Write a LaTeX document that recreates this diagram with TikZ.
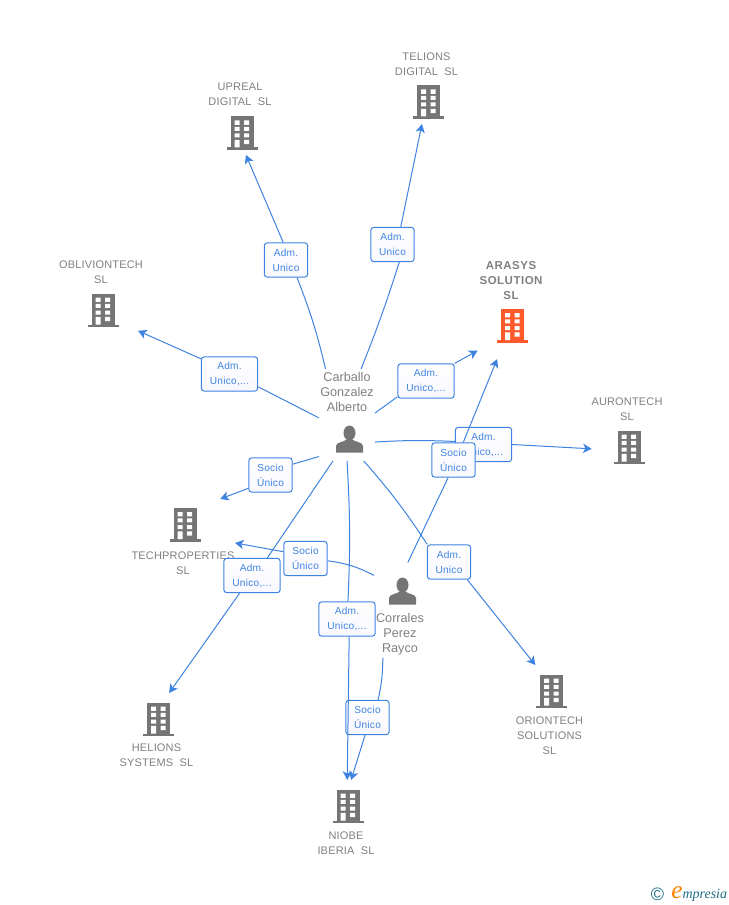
\documentclass[tikz,border=0pt]{standalone}
\usepackage{fontspec}
\setmainfont{Liberation Sans}
\newfontfamily\lblfont[LetterSpace=1.5]{Liberation Sans}
\newfontfamily\mainlblfont[LetterSpace=4.5]{Liberation Sans}
\newfontfamily\rolefont[LetterSpace=2.5]{Liberation Sans}
\newfontfamily\logofont{Liberation Serif}
\usepackage{xcolor}
\usetikzlibrary{shapes,arrows.meta}
\definecolor{linkblue}{HTML}{3F83E0}
\definecolor{iconGrey}{HTML}{757575}
\definecolor{lblGrey}{HTML}{808080}
\definecolor{mainOrange}{HTML}{FF5A2B}
\definecolor{logoTeal}{HTML}{1F6E85}
\tikzstyle{icon} = [rectangle, minimum width=23.25pt, minimum height=25.5pt, inner sep=0pt, outer sep=0pt]
\tikzstyle{person} = [rectangle, minimum width=42pt, minimum height=69pt, inner sep=0pt, outer sep=0pt]
\tikzstyle{lbl} = [text=lblGrey, align=center, xshift=-1.5pt, yshift=-0.75pt, font=\lblfont\fontsize{8.25}{11.25}\selectfont]
\tikzstyle{mainlbl} = [text=lblGrey, align=center, xshift=-1.1pt, font=\mainlblfont\bfseries\fontsize{8.6}{11.25}\selectfont]
\tikzstyle{personlbl} = [text=lblGrey, align=center, font=\fontsize{9.5}{11.25}\selectfont]
\tikzstyle{rolebox} = [rectangle, draw=linkblue, line width=0.75pt, rounded corners=2.2pt, top color=white, bottom color=white!97!blue,
text=linkblue, align=center, inner sep=0pt, minimum width=32.5pt, minimum height=25.75pt, font=\rolefont\fontsize{7.6}{11.25}\selectfont]
\tikzstyle{widebox} = [rolebox, minimum width=42.25pt]
\tikzstyle{stub} = [draw=linkblue, line width=0.75pt]
\tikzstyle{pijl} = [stub, -{Stealth[length=6.5pt,width=7pt,inset=1.8pt]}]
\tikzset{
	bldg/.pic={
		\fill (-11.5,16.5) rectangle (11.5,-14.5);
		\fill (-15.5,-14.5) rectangle (15.5,-17);
		\fill [white] (-7.5,12.5) rectangle (-2.5,8.2) (2,12.5) rectangle (7,8.2);
		\fill [white] (-7.5,6.2) rectangle (-2.5,2.2) (2,6.2) rectangle (7,2.2);
		\fill [white] (-7.5,-0.5) rectangle (-2.5,-4.5) (2,-0.5) rectangle (7,-4.5);
		\fill [white] (-7.5,-6.8) rectangle (-2.5,-14.5) (2,-6.8) rectangle (7,-11.2);
	},
	man/.pic={
		\fill [iconGrey] (0,6) ellipse (6 and 7.5);
		\fill [iconGrey] (-13.5,-13.5) -- (-13.5,-7) .. controls (-13.5,-3) and (-5,-3) .. (-3,-0.5)
			-- (3,-0.5) .. controls (5,-3) and (13.5,-3) .. (13.5,-7) -- (13.5,-13.5) -- cycle;
	}
}
\begin{document}
\begin{tikzpicture}[x=0.75pt, y=0.75pt]
	\useasboundingbox (0,0) rectangle (728,-905);

	% companies
	\node [icon] (telions) at (428.5,-102) {};
	\node [icon] (upreal) at (242,-133) {};
	\node [icon] (obliviontech) at (103,-310) {};
	\node [icon] (arasys) at (512.5,-325.5) {};
	\node [icon] (aurontech) at (629,-447) {};
	\node [icon] (techproperties) at (185,-524.5) {};
	\node [icon] (orion) at (551.5,-691) {};
	\node [icon] (helions) at (158.5,-719) {};
	\node [icon] (niobe) at (348,-806) {};
	\foreach \co in {telions,upreal,obliviontech,aurontech,techproperties,orion,helions,niobe}
		\pic [iconGrey] at (\co) {bldg};
	\pic [mainOrange] at (arasys) {bldg};

	\node [lbl, above of=telions, node distance=29pt] (telionslbl) {TELIONS\\DIGITAL\ \ SL};
	\node [lbl, above of=upreal, node distance=29.5pt] (upreallbl) {UPREAL\\DIGITAL\ \ SL};
	\node [lbl, above of=obliviontech, node distance=29.25pt] (obliviontechlbl) {OBLIVIONTECH\\SL};
	\node [mainlbl, above of=arasys, node distance=34pt] (arasyslbl) {ARASYS\\SOLUTION\\SL};
	\node [lbl, above of=aurontech, node distance=29pt] (aurontechlbl) {AURONTECH\\SL};
	\node [lbl, below of=techproperties, node distance=28pt] (techpropertieslbl) {TECHPROPERTIES\\SL};
	\node [lbl, below of=orion, node distance=33pt] (orionlbl) {ORIONTECH\\SOLUTIONS\\SL};
	\node [lbl, below of=helions, node distance=26.5pt] (helionslbl) {HELIONS\\SYSTEMS\ \ SL};
	\node [lbl, below of=niobe, node distance=27.5pt] (niobelbl) {NIOBE\\IBERIA\ \ SL};

	% people
	\node [person] (carballo) at (347,-415) {};
	\node [person, minimum height=71.25pt] (corrales) at (402,-610) {};
	\pic at (349.5,-439) {man};
	\pic at (402.5,-591) {man};
	\node [personlbl] (carballolbl) at (347,-391.5) {Carballo\\Gonzalez\\Alberto};
	\node [personlbl] (corraleslbl) at (400,-634) {Corrales\\Perez\\Rayco};

	% roles
	\node [rolebox] (admupreal) at (286,-260) {Adm.\\Unico};
	\node [rolebox] (admtelions) at (392.5,-244.5) {Adm.\\Unico};
	\node [widebox] (admoblivion) at (229.5,-374) {Adm.\\Unico,...};
	\node [widebox] (admarasys) at (426,-381) {Adm.\\Unico,...};
	\node [widebox] (admauron) at (483.5,-444.5) {Adm.\\Unico,...};
	\node [rolebox] (sociotech) at (270.5,-475) {Socio\\Único};
	\node [widebox] (admhelions) at (252,-575.5) {Adm.\\Unico,...};
	\node [rolebox] (sociocorrales) at (305.5,-558.5) {Socio\\Único};
	\node [widebox] (admniobe) at (347,-619) {Adm.\\Unico,...};
	\node [rolebox] (admorion) at (449,-562) {Adm.\\Unico};
	\node [rolebox] (socioniobe) at (367.5,-717.5) {Socio\\Único};

	\path [stub] (carballo.-44) to [bend left=3] (admauron.174);
	\node [rolebox] (socioarasys) at (453.5,-460) {Socio\\Único};

	% carballo
	\path [stub] (carballo.115) to [bend right=4] (admupreal.-58);
	\path [pijl, shorten >=4pt] (admupreal.99.5) -- (upreal.-84);
	\path [stub] (carballo.73) to [bend right=2] (admtelions.-69);
	\path [pijl, shorten >=3.8pt] (admtelions.65) -- (telions.-108);
	\path [stub] (carballo.186) -- (admoblivion.-24.5);
	\path [pijl, shorten >=16pt] (admoblivion.152) -- (obliviontech.-38.4);
	\path [stub] (carballo.4) -- (admarasys.209);
	\path [pijl, shorten >=16.6pt] (admarasys.north east) -- (arasys.-137.5);
	\path [pijl, shorten >=16.4pt] (admauron.east) -- (aurontech.191);
	\path [stub] (carballo.-124) -- (sociotech.26.6);
	\path [pijl, shorten >=18pt] (sociotech.211.5) -- (techproperties.53.5);
	\path [stub] (carballo.253) -- (admhelions.49.4);
	\path [pijl, shorten >=8.3pt] (admhelions.235.6) -- (helions.76.4);
	\path [stub] (carballo.south) to [bend left=3] (admniobe.87);
	\path [pijl, shorten >=6.8pt] (admniobe.-83.5) -- (niobe.93.7);
	\path [stub] (carballo.-70.8) to [bend left=4] (admorion.141);
	\path [pijl, shorten >=8.6pt] (admorion.-44) -- (orion.118.7);

	% corrales
	\path [stub] (corrales.83) -- (socioarasys.-107);
	\path [pijl, shorten >=13.4pt] (socioarasys.61.5) -- (arasys.-117);
	\path [stub] (corrales.129.5) to [bend right=10] (sociocorrales.-6.5);
	\path [pijl, shorten >=26.3pt] (sociocorrales.163.5) -- (techproperties.-38);
	\path [stub] (corrales.248) to [bend left=6] (socioniobe.59);
	\path [pijl, shorten >=7pt] (socioniobe.-98) -- (niobe.89);

	% logo
	\node [text=logoTeal, font=\fontsize{13.5}{13.5}\selectfont] (copyright) at (657.5,-894) {©};
	\node [anchor=base west, text=logoTeal, inner sep=0pt, font=\logofont\itshape\fontsize{10.5}{11}\selectfont] (logo) at (671,-898)
		{\textcolor{orange}{\fontsize{19}{11}\selectfont e}mpresia};
\end{tikzpicture}
\end{document}
